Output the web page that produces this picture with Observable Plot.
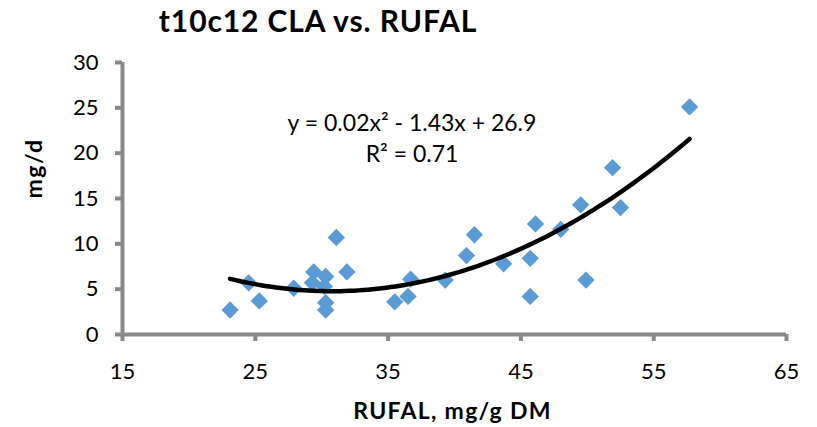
<!DOCTYPE html>
<html>
<head>
<meta charset="utf-8">
<script src="https://cdn.jsdelivr.net/npm/d3@7"></script>
<script src="https://cdn.jsdelivr.net/npm/@observablehq/plot@0.6"></script>
<style>
  html, body { margin: 0; padding: 0; background: #fff; }
  #wrap { position: relative; width: 817px; height: 427px; }
  #title { position: absolute; left: 0; top: 5px; width: 636px; text-align: center; line-height: 30px;
           font-family: Lato, sans-serif; font-weight: 700; font-size: 30px; color: #000; letter-spacing: 0.9px; z-index: 2; }
  #chart { position: absolute; left: 0; top: 0; }
</style>
</head>
<body>
<div id="wrap">
  <div id="title">t10c12 CLA vs. RUFAL</div>
  <div id="chart"></div>
</div>
<script>
const rufal = [23.1, 24.5, 25.3, 27.9, 29.4, 29.3, 30.3, 30.2, 30.3, 30.3, 31.1, 31.9,
               35.5, 36.5, 36.7, 39.3, 40.9, 41.5, 43.7, 45.7, 45.7, 46.1, 48.0, 49.5,
               49.9, 51.9, 52.5, 57.7];
const cla   = [2.7, 5.7, 3.7, 5.1, 6.9, 5.7, 6.4, 5.3, 3.5, 2.7, 10.7, 6.9,
               3.6, 4.2, 6.1, 6.0, 8.7, 11.0, 7.8, 8.4, 4.2, 12.2, 11.6, 14.3,
               6.0, 18.4, 14.0, 25.1];
const xTicks = [15, 25, 35, 45, 55, 65];
const yTicks = [0, 5, 10, 15, 20, 25, 30];
const xLabel = "RUFAL, mg/g DM";
const yLabel = "mg/d";
const equationText = "y = 0.02x\u00B2 - 1.43x + 26.9";
const r2Text = "R\u00B2 = 0.71";

const points = rufal.map((x, i) => ({x, y: cla[i]}));

// quadratic least-squares fit from the data
function quadFit(xs, ys) {
  let S = Array(5).fill(0), T = Array(3).fill(0);
  xs.forEach((x, i) => {
    for (let k = 0; k < 5; k++) S[k] += Math.pow(x, k);
    for (let k = 0; k < 3; k++) T[k] += ys[i] * Math.pow(x, k);
  });
  const A = [[S[0], S[1], S[2], T[0]], [S[1], S[2], S[3], T[1]], [S[2], S[3], S[4], T[2]]];
  for (let i = 0; i < 3; i++) {
    for (let j = i + 1; j < 3; j++) {
      const f = A[j][i] / A[i][i];
      for (let k = i; k < 4; k++) A[j][k] -= f * A[i][k];
    }
  }
  const c = [0, 0, 0];
  for (let i = 2; i >= 0; i--) {
    let s = A[i][3];
    for (let k = i + 1; k < 3; k++) s -= A[i][k] * c[k];
    c[i] = s / A[i][i];
  }
  return c;
}
const coef = quadFit(rufal, cla);
const x0 = d3.min(rufal), x1 = d3.max(rufal);
const trend = d3.range(0, 101).map(i => {
  const x = x0 + (x1 - x0) * i / 100;
  return {x, y: coef[0] + coef[1] * x + coef[2] * x * x};
});

const axisColor = "#898989";
const plot = Plot.plot({
  width: 817,
  height: 427,
  marginLeft: 122,
  marginRight: 31,
  marginTop: 62,
  marginBottom: 93,
  style: { fontFamily: "Lato, sans-serif", fontSize: "22px", color: "#000", background: "transparent" },
  x: { domain: [15, 65] },
  y: { domain: [0, 30] },
  marks: [
    Plot.ruleY([0], { stroke: axisColor, strokeWidth: 4 }),
    Plot.ruleX([15], { stroke: axisColor, strokeWidth: 4 }),
    Plot.axisX({ ticks: xTicks, tickSize: 7, tickPadding: 22, stroke: axisColor, strokeWidth: 4,
                 fill: "#000", fontSize: 22, label: null }),
    Plot.axisY({ ticks: yTicks, tickSize: 7, tickPadding: 17, stroke: axisColor, strokeWidth: 4,
                 fill: "#000", fontSize: 22, label: null }),
    Plot.text([xLabel], { frameAnchor: "bottom", dy: 77, dx: -2, fontWeight: "bold", fontSize: 23,
                          fill: "#000", lineAnchor: "middle" }),
    Plot.text([yLabel], { frameAnchor: "left", dx: -88, rotate: -90, fontWeight: "bold", fontSize: 23,
                          fill: "#000" }),
    Plot.dot(points, { x: "x", y: "y", symbol: "diamond2", r: 7.8, fill: "#5b9bd5", stroke: "none" }),
    Plot.line(trend, { x: "x", y: "y", stroke: "#000", strokeWidth: 4.5 }),
    Plot.text([equationText], { x: 36.8, y: 23.3, fontSize: 23, fill: "#000" }),
    Plot.text([r2Text], { x: 36.8, y: 19.8, fontSize: 23, fill: "#000" })
  ]
});
d3.select(plot).selectAll("text").each(function() {
  const t = this.textContent;
  if (t === xLabel) this.setAttribute("letter-spacing", "1.3");
  if (t === yLabel) this.setAttribute("letter-spacing", "1.5");
});
document.getElementById("chart").appendChild(plot);
</script>
</body>
</html>
